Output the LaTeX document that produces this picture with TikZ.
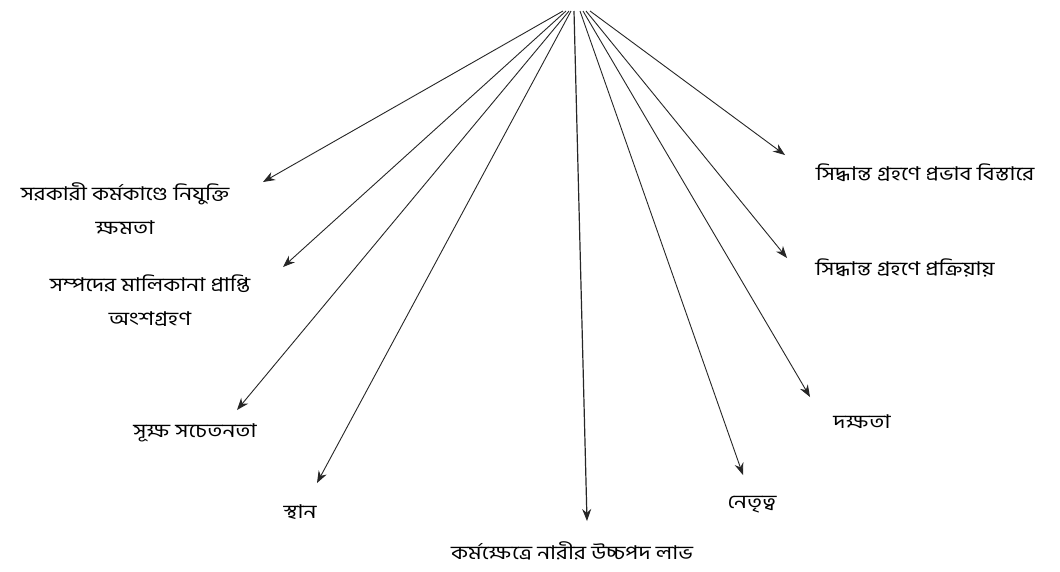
\documentclass[tikz,border=0pt]{standalone}
\usepackage{fontspec}
\newfontfamily\bn[Script=Bengali,FakeStretch=1.2]{Hind Siliguri}
\usetikzlibrary{arrows.meta}
\tikzset{
  lbl/.style={font=\bn\fontsize{19}{34}\selectfont, align=center, inner sep=0pt, text=black},
  arr/.style={draw=black!85, line width=0.9pt, -{Stealth[length=12pt,width=9pt]}},
}
\begin{document}
\begin{tikzpicture}[x=1pt,y=-1pt]
\useasboundingbox[fill=white] (0,0) rectangle (1060,571);
% start points
\coordinate (s1) at (563,11);
\coordinate (s2) at (566,11);
\coordinate (s3) at (569,11);
\coordinate (s4) at (571,11);
\coordinate (s5) at (574,11);
\coordinate (s6) at (580,11);
\coordinate (s7) at (583,11);
\coordinate (s8) at (586,11);
\coordinate (s9) at (590,11);
% tips
\coordinate (e1) at (263,182);
\coordinate (e2) at (283,267);
\coordinate (e3) at (237,410);
\coordinate (e4) at (317,483);
\coordinate (e5) at (587,521);
\coordinate (e6) at (743,475);
\coordinate (e7) at (810,397);
\coordinate (e8) at (787,258);
\coordinate (e9) at (785,155);
% labels
\node[lbl] (t1) at (125,209) {সরকারী কর্মকাণ্ডে নিযুক্তি\\ক্ষমতা};
\node[lbl] (t2) at (150,301) {সম্পদের মালিকানা প্রাপ্তি\\অংশগ্রহণ};
\node[lbl] (t3) at (195,433) {সূক্ষ সচেতনতা};
\node[lbl] (t4) at (300,512) {স্থান};
\node[lbl] (t5) at (572,551) {কর্মক্ষেত্রে নারীর উচ্চপদ লাভ};
\node[lbl] (t6) at (752,505) {নেতৃত্ব};
\node[lbl] (t7) at (862,422) {দক্ষতা};
\node[lbl] (t8) at (905,268) {সিদ্ধান্ত গ্রহণে প্রক্রিয়ায়};
\node[lbl] (t9) at (925,173) {সিদ্ধান্ত গ্রহণে প্রভাব বিস্তারে};
% arrows
\draw[arr] (s1) -- (e1);
\draw[arr] (s2) -- (e2);
\draw[arr] (s3) -- (e3);
\draw[arr] (s4) -- (e4);
\draw[arr, line width=1.2pt] (s5) -- (e5);
\draw[arr] (s6) -- (e6);
\draw[arr] (s7) -- (e7);
\draw[arr] (s8) -- (e8);
\draw[arr] (s9) -- (e9);
\end{tikzpicture}
\end{document}
